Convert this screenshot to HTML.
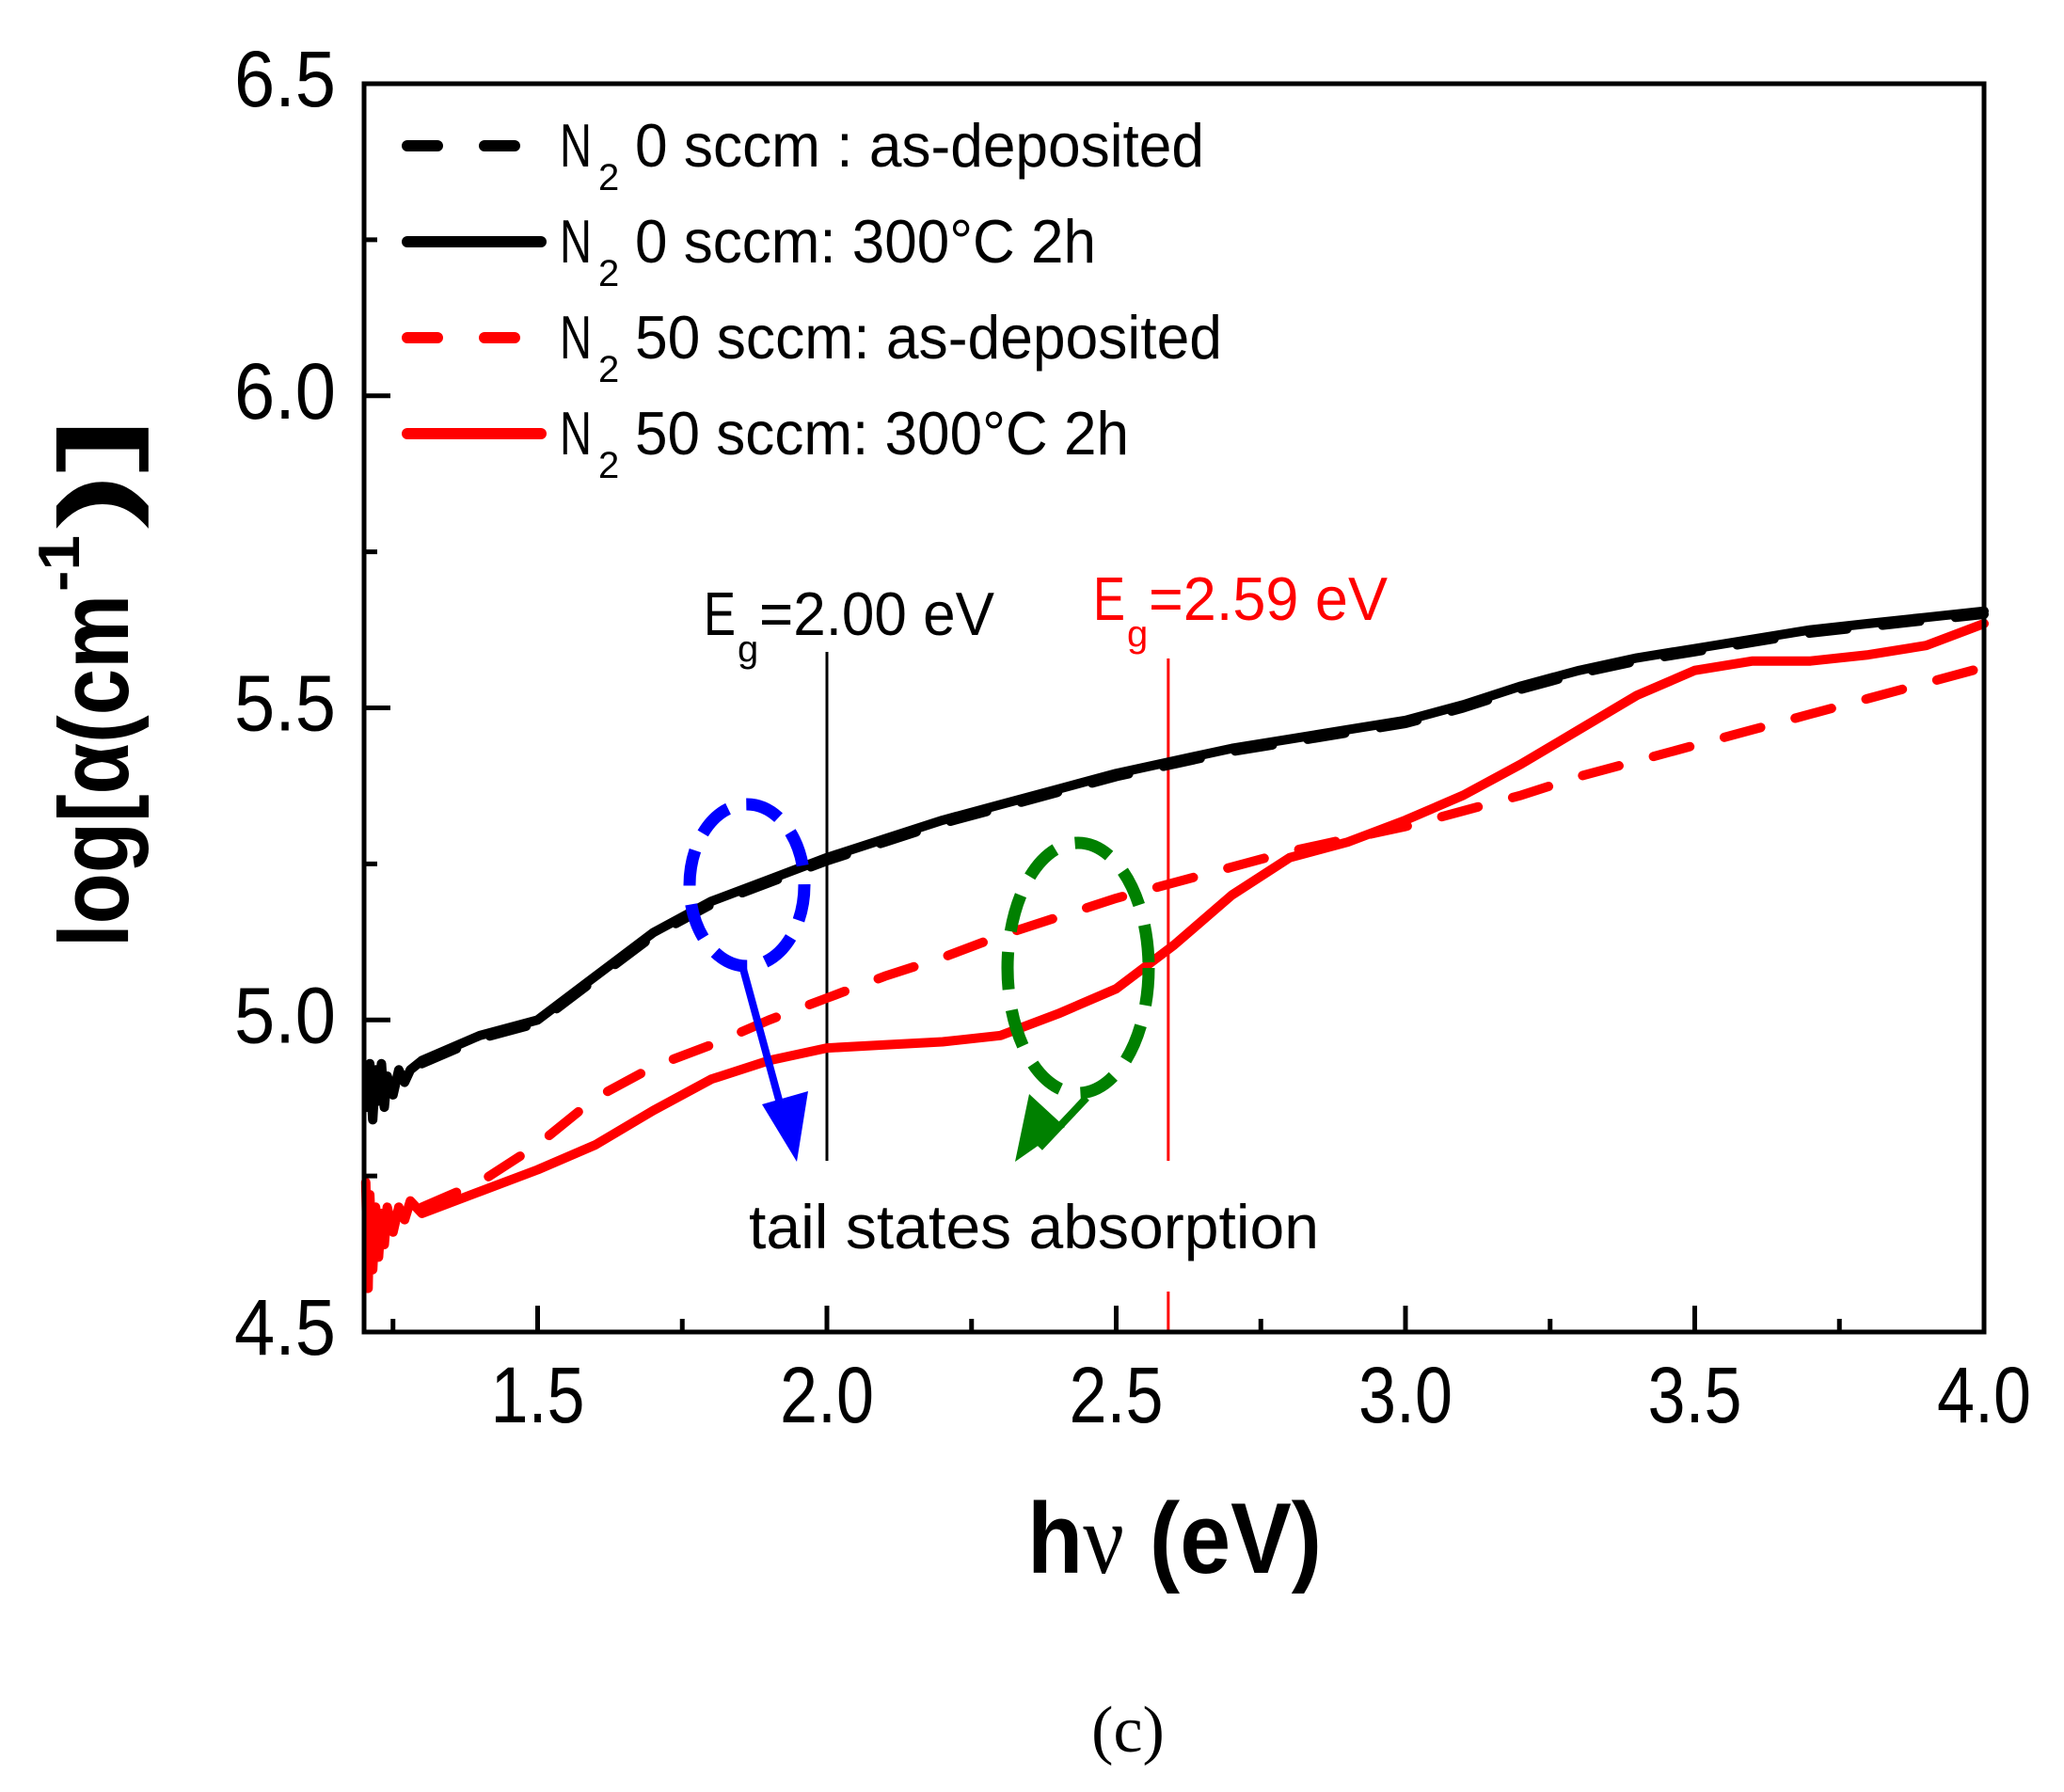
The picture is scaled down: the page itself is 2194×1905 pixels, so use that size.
<!DOCTYPE html>
<html><head><meta charset="utf-8"><style>
html,body{margin:0;padding:0;background:#fff;}
svg{display:block;}
</style></head>
<body>
<svg id="chart" width="2194" height="1905" viewBox="0 0 2194 1905" xmlns="http://www.w3.org/2000/svg" style="font-family:'Liberation Sans',sans-serif">
<rect width="2194" height="1905" fill="#fff"/>
<g id="plot"></g>
</svg>
<script>
// ---- data ----
const xTicks = [1.5, 2.0, 2.5, 3.0, 3.5, 4.0];
const xTickLabels = ["1.5", "2.0", "2.5", "3.0", "3.5", "4.0"];
const yTicks = [4.5, 5.0, 5.5, 6.0, 6.5];
const yTickLabels = ["4.5", "5.0", "5.5", "6.0", "6.5"];

const blackSolidX = [1.205,1.21,1.215,1.22,1.225,1.23,1.235,1.24,1.25,1.26,1.27,1.28,1.3,1.4,1.5,1.6,1.7,1.8,1.9,2.0,2.1,2.2,2.3,2.4,2.5,2.6,2.7,2.8,2.9,3.0,3.1,3.2,3.3,3.4,3.5,3.6,3.7,3.8,3.9,4.0];
const blackSolidY = [4.86,4.93,4.84,4.92,4.87,4.93,4.86,4.91,4.88,4.92,4.9,4.92,4.935,4.975,5.0,5.07,5.14,5.19,5.225,5.26,5.29,5.32,5.345,5.37,5.395,5.415,5.435,5.45,5.465,5.48,5.505,5.535,5.56,5.58,5.595,5.61,5.625,5.635,5.645,5.655];
const blackDashX = [1.3,1.4,1.5,1.6,1.7,1.8,1.9,2.0,2.1,2.2,2.3,2.4,2.5,2.6,2.7,2.8,2.9,3.0,3.1,3.2,3.3,3.4,3.5,3.6,3.7,3.8,3.9,4.0];
const blackDashY = [4.93,4.97,4.995,5.065,5.135,5.185,5.22,5.255,5.285,5.315,5.34,5.365,5.39,5.41,5.43,5.445,5.46,5.475,5.5,5.53,5.555,5.575,5.59,5.605,5.62,5.63,5.64,5.65];
const redDashX = [1.3,1.4,1.5,1.6,1.7,1.8,1.9,2.0,2.1,2.2,2.3,2.4,2.5,2.6,2.7,2.8,2.9,3.0,3.1,3.2,3.3,3.4,3.5,3.6,3.7,3.8,3.9,4.0];
const redDashY = [4.7,4.74,4.8,4.875,4.925,4.96,5.0,5.035,5.07,5.1,5.135,5.165,5.195,5.22,5.245,5.27,5.29,5.31,5.335,5.36,5.39,5.415,5.44,5.465,5.49,5.515,5.54,5.565];
const redSolidX = [1.203,1.207,1.21,1.215,1.22,1.225,1.23,1.235,1.24,1.25,1.26,1.27,1.28,1.3,1.4,1.5,1.6,1.7,1.8,1.9,2.0,2.1,2.2,2.3,2.4,2.5,2.6,2.7,2.8,2.9,3.0,3.1,3.2,3.3,3.4,3.5,3.6,3.7,3.8,3.9,4.0];
const redSolidY = [4.74,4.57,4.72,4.6,4.7,4.62,4.69,4.64,4.7,4.66,4.7,4.68,4.71,4.69,4.725,4.76,4.8,4.855,4.905,4.935,4.955,4.96,4.965,4.975,5.01,5.05,5.12,5.2,5.26,5.285,5.32,5.36,5.41,5.465,5.52,5.56,5.575,5.575,5.585,5.6,5.635];

// ---- axes ----
const X0=387, X1=2109, Y0=1416, Y1=89;
const xMin=1.2, xMax=4.0, yMin=4.5, yMax=6.5;
function sx(v){return X0+(v-xMin)/(xMax-xMin)*(X1-X0);}
function sy(v){return Y0-(v-yMin)/(yMax-yMin)*(Y0-Y1);}
const NS="http://www.w3.org/2000/svg";
const g=document.getElementById('plot');
function el(tag,attrs,parent){const e=document.createElementNS(NS,tag);for(const k in attrs)e.setAttribute(k,attrs[k]);(parent||g).appendChild(e);return e;}

let e;
e=el('line',{x1:sx(2.0),x2:sx(2.0),y1:693,y2:1234,stroke:'#000','stroke-width':3});


e=el('line',{x1:sx(2.59),x2:sx(2.59),y1:700,y2:1234,stroke:'#f00','stroke-width':3});


e=el('line',{x1:sx(2.59),x2:sx(2.59),y1:1373,y2:Y0,stroke:'#f00','stroke-width':3});



function series(xs,ys,color,dash,name){
  let d='';
  for(let i=0;i<xs.length;i++){d+=(i?'L':'M')+sx(xs[i]).toFixed(1)+','+sy(ys[i]).toFixed(1);}
  const p=el('path',{d:d,fill:'none',stroke:color,'stroke-width':10,'stroke-linejoin':'round','stroke-linecap':'round'});
  if(dash)p.setAttribute('stroke-dasharray',dash);
  
  
}
series(redDashX,redDashY,'#f00','40 38','series-n2-50-as-deposited');
series(redSolidX,redSolidY,'#f00',null,'series-n2-50-annealed');
series(blackDashX,blackDashY,'#000','40 38','series-n2-0-as-deposited');
series(blackSolidX,blackSolidY,'#000',null,'series-n2-0-annealed');

e=el('rect',{x:X0,y:Y1,width:X1-X0,height:Y0-Y1,fill:'none',stroke:'#000','stroke-width':5});



for(let v=1.25; v<=4.0001; v+=0.25){
  const major=Math.abs(v*2-Math.round(v*2))<1e-6;
  const t=el('line',{x1:sx(v),x2:sx(v),y1:Y0,y2:Y0-(major?28:14),stroke:'#000','stroke-width':5});
  
  
}
for(let i=0;i<xTicks.length;i++){
  const t=el('text',{x:sx(xTicks[i]),y:1512,'font-size':84,'text-anchor':'middle',textLength:100,lengthAdjust:'spacingAndGlyphs'});
  t.textContent=xTickLabels[i];
  
  
}
for(let v=4.75; v<6.5; v+=0.25){
  const major=Math.abs(v*2-Math.round(v*2))<1e-6;
  const t=el('line',{x1:X0,x2:X0+(major?28:14),y1:sy(v),y2:sy(v),stroke:'#000','stroke-width':5});
  
  
}
for(let i=0;i<yTicks.length;i++){
  const t=el('text',{x:357,y:sy(yTicks[i])+24,'font-size':84,'text-anchor':'end',textLength:108,lengthAdjust:'spacingAndGlyphs'});
  t.textContent=yTickLabels[i];
  
  
}
</script>

<svg style="position:absolute;left:0;top:0;font-family:'Liberation Sans',sans-serif" width="2194" height="1905" viewBox="0 0 2194 1905" xmlns="http://www.w3.org/2000/svg">
  <g>
    <g>
      <line x1="433" y1="155" x2="575" y2="155" stroke="#000" stroke-width="12" stroke-linecap="round" stroke-dasharray="32 50"/>
      <text x="595" y="177" font-size="65" textLength="34" lengthAdjust="spacingAndGlyphs">N</text>
      <text x="636" y="202" font-size="40">2</text>
      <text x="675" y="177" font-size="65" textLength="605" lengthAdjust="spacingAndGlyphs">0 sccm : as-deposited</text>
    </g>
    <g>
      <line x1="433" y1="257" x2="575" y2="257" stroke="#000" stroke-width="12" stroke-linecap="round"/>
      <text x="595" y="279" font-size="65" textLength="34" lengthAdjust="spacingAndGlyphs">N</text>
      <text x="636" y="304" font-size="40">2</text>
      <text x="675" y="279" font-size="65" textLength="490" lengthAdjust="spacingAndGlyphs">0 sccm: 300°C 2h</text>
    </g>
    <g>
      <line x1="433" y1="359" x2="575" y2="359" stroke="#f00" stroke-width="12" stroke-linecap="round" stroke-dasharray="32 50"/>
      <text x="595" y="381" font-size="65" textLength="34" lengthAdjust="spacingAndGlyphs">N</text>
      <text x="636" y="406" font-size="40">2</text>
      <text x="675" y="381" font-size="65" textLength="624" lengthAdjust="spacingAndGlyphs">50 sccm: as-deposited</text>
    </g>
    <g>
      <line x1="433" y1="461" x2="575" y2="461" stroke="#f00" stroke-width="12" stroke-linecap="round"/>
      <text x="595" y="483" font-size="65" textLength="34" lengthAdjust="spacingAndGlyphs">N</text>
      <text x="636" y="508" font-size="40">2</text>
      <text x="675" y="483" font-size="65" textLength="525" lengthAdjust="spacingAndGlyphs">50 sccm: 300°C 2h</text>
    </g>
  </g>

  <g>
    <text x="748" y="675" font-size="65" textLength="34" lengthAdjust="spacingAndGlyphs">E</text>
    <text x="784" y="703" font-size="40">g</text>
    <text x="807" y="675" font-size="65" textLength="250" lengthAdjust="spacingAndGlyphs">=2.00 eV</text>
  </g>
  <g fill="#f00">
    <text x="1162" y="659" font-size="65" textLength="34" lengthAdjust="spacingAndGlyphs">E</text>
    <text x="1198" y="687" font-size="40">g</text>
    <text x="1221" y="659" font-size="65" textLength="254" lengthAdjust="spacingAndGlyphs">=2.59 eV</text>
  </g>

  <ellipse cx="794" cy="941" rx="61" ry="86" fill="none" stroke="#0000ff" stroke-width="13" stroke-dasharray="38 20"/>
  <line x1="790" y1="1030" x2="835" y2="1195" stroke="#0000ff" stroke-width="8"/>
  <polygon points="810,1174 859,1160 847,1235" fill="#0000ff"/>
  <ellipse cx="1146" cy="1029" rx="75" ry="133" fill="none" stroke="#008000" stroke-width="13" stroke-dasharray="40 22"/>
  <line x1="1155" y1="1167" x2="1105" y2="1220" stroke="#008000" stroke-width="8"/>
  <polygon points="1094,1163 1132,1198 1079,1235" fill="#008000"/>

  <text x="796" y="1327" font-size="66" textLength="606" lengthAdjust="spacingAndGlyphs">tail states absorption</text>

  <text x="1092" y="1672" font-size="107" font-weight="bold" textLength="313" lengthAdjust="spacingAndGlyphs">h<tspan style="font-family:'Liberation Serif',serif;font-weight:normal">ν</tspan> (eV)</text>
  <g transform="translate(136,1007) rotate(-90)">
    <text x="0" y="0" font-size="105" font-weight="bold" textLength="375" lengthAdjust="spacingAndGlyphs">log[α(cm</text>
    <text x="378" y="-52" font-size="62" font-weight="bold" textLength="60" lengthAdjust="spacingAndGlyphs">-1</text>
    <text x="445" y="0" font-size="105" font-weight="bold" textLength="117" lengthAdjust="spacingAndGlyphs">)]</text>
  </g>
  <text x="1199" y="1862" font-size="70" text-anchor="middle" style="font-family:'Liberation Serif',serif">(c)</text>
</svg>
</body></html>
